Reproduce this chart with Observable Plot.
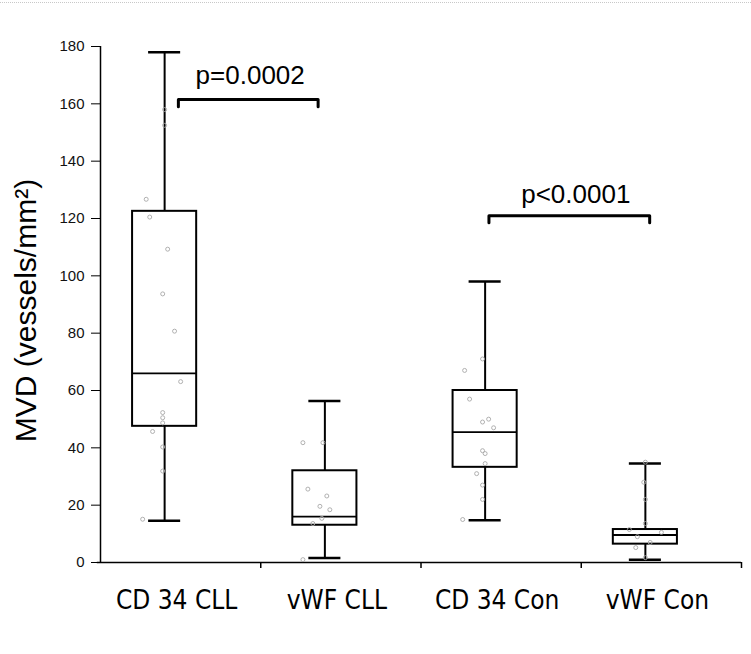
<!DOCTYPE html>
<html>
<head>
<meta charset="utf-8">
<script src="https://cdn.jsdelivr.net/npm/d3@7"></script>
<script src="https://cdn.jsdelivr.net/npm/@observablehq/plot@0.6"></script>
<style>
  body { margin: 0; background: #fff; }
  #wrap { position: relative; width: 751px; height: 654px; overflow: hidden; }
  #scan { position: absolute; left: 0; top: 2px; width: 751px; border-top: 1px dotted #c8c8c8; }
  #chart svg { display: block; }
</style>
</head>
<body>
<div id="wrap"><div id="scan"></div><div id="chart"></div></div>
<script>
// ---- data ----
const groups = ["CD 34 CLL", "vWF CLL", "CD 34 Con", "vWF Con"];
const whiskerLow  = [14.6, 1.6, 14.7, 1.0];
const q1          = [47.5, 13.0, 33.2, 6.4];
const median      = [66.0, 16.0, 45.5, 9.6];
const q3          = [122.5, 32.0, 60.0, 11.5];
const whiskerHigh = [178.0, 56.3, 98.0, 34.5];

// individual observations (group index, value, horizontal scatter in group units)
const pointGroup  = [0,0,0,0,0,0,0,0,0,0,0,0,0,0,0,
                     1,1,1,1,1,1,1,1,1,
                     2,2,2,2,2,2,2,2,2,2,2,2,2,
                     3,3,3,3,3,3,3,3,3,3];
const pointValue  = [158, 152.5, 126.7, 120.5, 109.3, 93.7, 80.7, 63.1, 52.3, 50.5, 48.7, 45.7, 40.3, 31.9, 15.1,
                     41.8, 41.8, 25.6, 23.2, 19.6, 18.4, 15.4, 13.6, 1.0,
                     71, 67, 57, 49, 50, 47, 39, 38, 34.5, 31, 27, 22, 15,
                     35, 28, 22, 13.6, 11.5, 10.5, 9, 7, 5.2, 1.7];
const pointJitter = [0, 0, -0.115, -0.093, 0.019, -0.012, 0.062, 0.1, -0.012, -0.012, -0.012, -0.075, -0.012, -0.012, -0.137,
                     -0.137, -0.012, -0.106, 0.012, -0.031, 0.031, -0.019, -0.075, -0.137,
                     -0.016, -0.128, -0.097, -0.016, 0.022, 0.053, -0.016, 0, 0, -0.053, -0.016, -0.016, -0.14,
                     0, -0.01, 0, 0, -0.1, 0.1, -0.05, 0.03, -0.06, 0];

// significance brackets
const bracketLabel = ["p=0.0002", "p<0.0001"];
const bracketStart = [0.986, 2.924];
const bracketEnd   = [1.858, 3.927];
const bracketY     = [161.5, 121];
const bracketHook  = [2.5, 2.5];
const labelX       = [1.434, 3.466];
const labelY       = [167, 125.3];

const yTicks = [0, 20, 40, 60, 80, 100, 120, 140, 160, 180];

// ---- build tables ----
const boxes = groups.map((g, i) => ({
  group: g, pos: i + 1,
  lo: whiskerLow[i], q1: q1[i], med: median[i], q3: q3[i], hi: whiskerHigh[i]
}));
const points = pointValue.map((v, i) => ({ pos: pointGroup[i] + 1 + pointJitter[i], value: v }));
const bracketPath = bracketLabel.flatMap((lab, i) => [
  { b: i, x: bracketStart[i], y: bracketY[i] - bracketHook[i] },
  { b: i, x: bracketStart[i], y: bracketY[i] },
  { b: i, x: bracketEnd[i],   y: bracketY[i] },
  { b: i, x: bracketEnd[i],   y: bracketY[i] - bracketHook[i] }
]);
const bracketText = bracketLabel.map((t, i) => ({ text: t, x: labelX[i], y: labelY[i] }));

const sans = "Liberation Sans, Arial, sans-serif";
const narrow = "DejaVu Sans Condensed, Liberation Sans Narrow, Arial Narrow, sans-serif";
const shift = -16;
const half = 0.2, cap = 0.1;

const chart = Plot.plot({
  width: 751,
  height: 654,
  marginLeft: 100,
  marginRight: 10,
  marginTop: 46,
  marginBottom: 92,
  style: { fontFamily: sans, background: "white", color: "black" },
  x: { type: "linear", domain: [0.5, 4.5] },
  y: { domain: [0, 180] },
  marks: [
    // axes
    Plot.axisY({ ticks: yTicks, tickSize: 9, tickPadding: 7, fontSize: 15, label: null, fill: "#111" }),
    Plot.axisX({ ticks: [1.5, 2.5, 3.5, 4.5], tickSize: 6, tickFormat: () => "", label: null, strokeWidth: 1.5 }),
    Plot.axisX({ ticks: [1, 2, 3, 4], tickSize: 0, tickPadding: 28, tickFormat: d => groups[d - 1],
                 fontSize: 26, fontFamily: narrow, label: null, dx: -4 }),
    Plot.ruleX([0.5], { y1: 0, y2: 180, strokeWidth: 1.5 }),
    Plot.ruleY([0], { x1: 0.48, x2: 4.5, strokeWidth: 1.5 }),
    // whiskers
    Plot.ruleX(boxes, { x: "pos", y1: "lo", y2: "q1", dx: shift, strokeWidth: 2 }),
    Plot.ruleX(boxes, { x: "pos", y1: "q3", y2: "hi", dx: shift, strokeWidth: 2 }),
    Plot.ruleY(boxes, { y: "hi", x1: d => d.pos - cap, x2: d => d.pos + cap, dx: shift, strokeWidth: 2.5 }),
    Plot.ruleY(boxes, { y: "lo", x1: d => d.pos - cap, x2: d => d.pos + cap, dx: shift, strokeWidth: 2.5 }),
    // boxes
    Plot.rect(boxes, { x1: d => d.pos - half, x2: d => d.pos + half, y1: "q1", y2: "q3",
                       fill: "white", stroke: "black", strokeWidth: 2, dx: shift }),
    Plot.ruleY(boxes, { y: "med", x1: d => d.pos - half, x2: d => d.pos + half, dx: shift, strokeWidth: 1.8 }),
    // observations
    Plot.dot(points, { x: "pos", y: "value", r: 2, stroke: "#a8a8a8", strokeWidth: 0.9, dx: shift }),
    // brackets
    Plot.line(bracketPath, { x: "x", y: "y", z: "b", stroke: "black", strokeWidth: 3,
                             strokeLinejoin: "round", strokeLinecap: "round" }),
    Plot.text(bracketText, { x: "x", y: "y", text: "text", fontSize: 26, lineAnchor: "bottom",
                             fontFamily: sans, fill: "black" }),
    // y axis title
    Plot.text(["MVD (vessels/mm²)"], { frameAnchor: "left", textAnchor: "middle", rotate: -90, dx: -65, dy: 6,
                                      fontSize: 30, lineAnchor: "bottom", fontFamily: sans, fill: "black" })
  ]
});
document.getElementById("chart").appendChild(chart);
</script>
</body>
</html>
